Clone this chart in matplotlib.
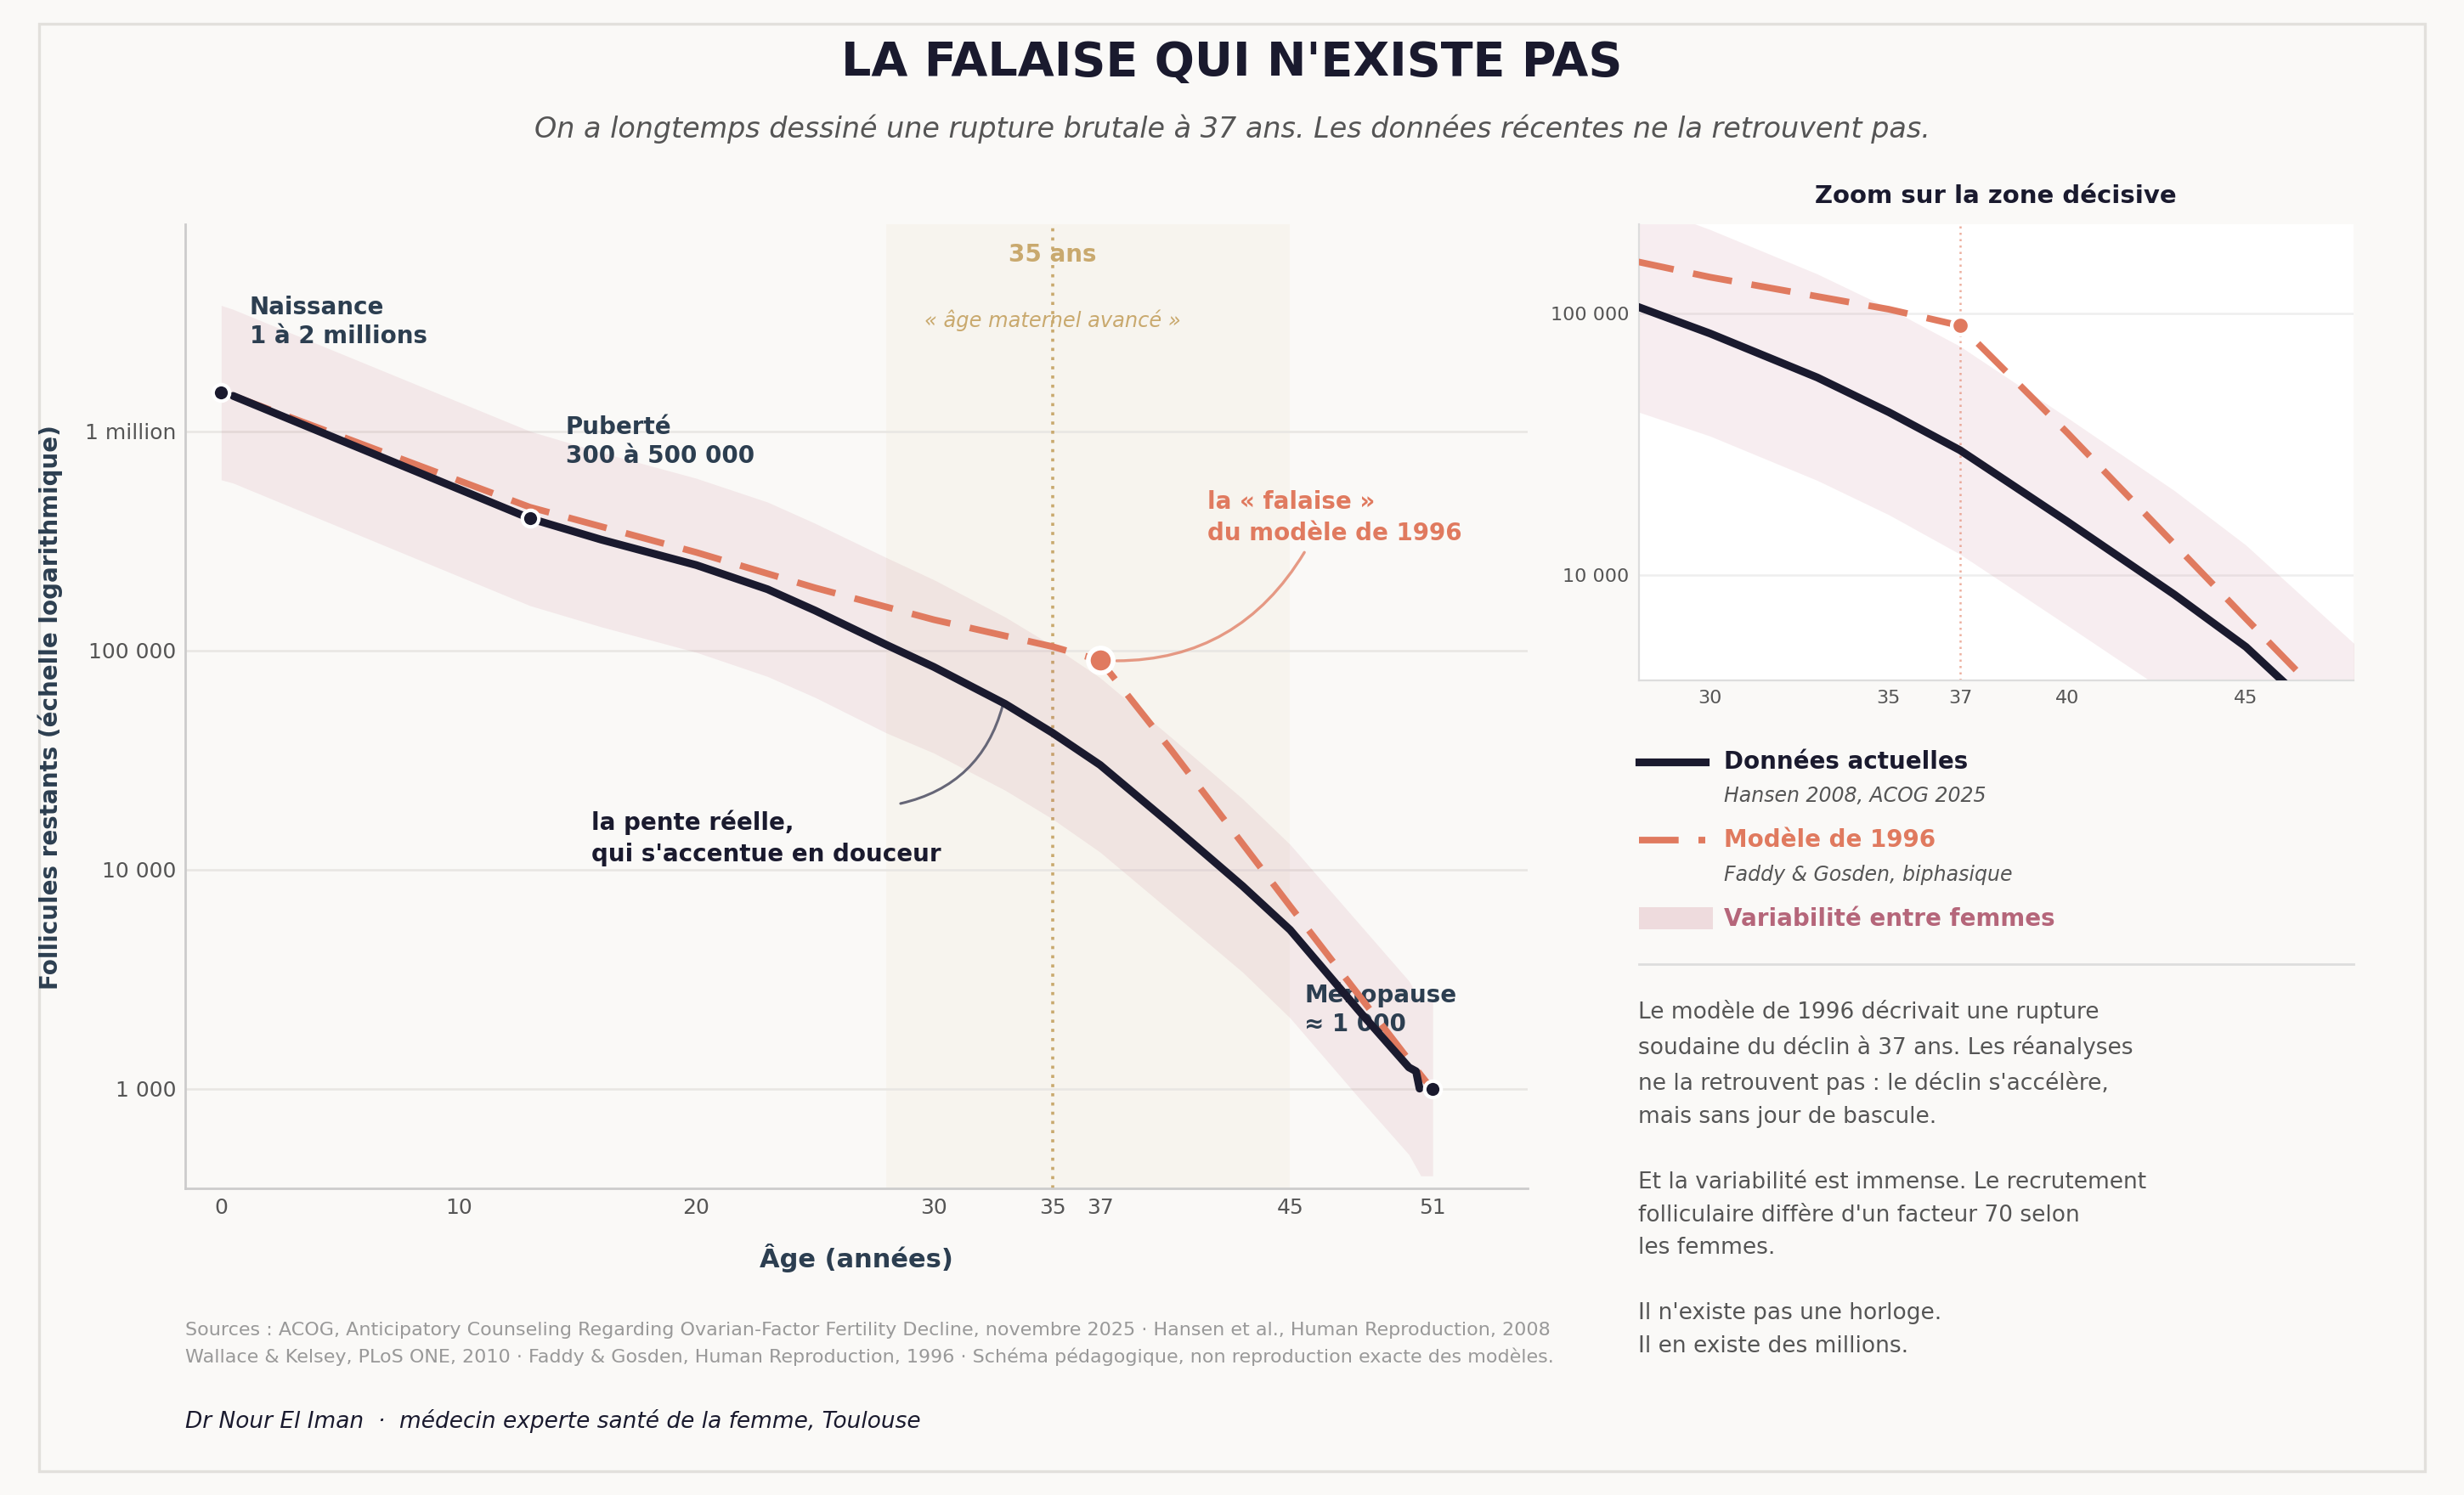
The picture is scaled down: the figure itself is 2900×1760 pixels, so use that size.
import matplotlib
matplotlib.use("Agg")
import matplotlib.pyplot as plt
from matplotlib.lines import Line2D
from matplotlib.patches import Rectangle
from matplotlib.ticker import NullLocator

plt.rcParams['font.family'] = ['DejaVu Sans']

# ---------------- DATA ----------------
ages_actual = [0.5, 13, 16, 20, 23, 25, 28, 30, 33, 35, 37, 40, 43, 45, 48, 50, 50.3, 50.45]
follicles_actual = [1.45e6, 4.0e5, 3.2e5, 2.45e5, 1.9e5, 1.52e5, 1.06e5, 8.4e4, 5.7e4, 4.2e4,
                    3.0e4, 1.6e4, 8.4e3, 5.3e3, 2.2e3, 1.25e3, 1.2e3, 1.0e3]

ages_model = [0.5, 13, 20, 25, 30, 35, 37, 40, 45, 50, 50.8]
follicles_model = [1.45e6, 4.5e5, 2.8e5, 1.93e5, 1.38e5, 1.04e5, 9.0e4, 3.5e4, 6.8e3, 1.35e3, 1.05e3]

ages_band = [0, 0.5, 13, 16, 20, 23, 25, 28, 30, 33, 35, 37, 40, 43, 45, 48, 50, 50.5, 51]
band_low = [6.0e5, 5.8e5, 1.6e5, 1.28e5, 9.8e4, 7.6e4, 6.1e4, 4.2e4, 3.4e4, 2.3e4, 1.7e4,
            1.2e4, 6.4e3, 3.4e3, 2.1e3, 880, 500, 400, 400]
band_high = [3.75e6, 3.6e6, 1.0e6, 8.0e5, 6.1e5, 4.75e5, 3.8e5, 2.65e5, 2.1e5, 1.42e5, 1.05e5,
             7.5e4, 4.0e4, 2.1e4, 1.3e4, 5.5e3, 3.1e3, 2.5e3, 2.5e3]

milestone_ages = [0, 13, 51]
milestone_values = [1.5e6, 4.0e5, 1.0e3]
cliff_age = 37
cliff_value = 9.0e4

x_ticks = [0, 10, 20, 30, 35, 37, 45, 51]
y_ticks = [1e3, 1e4, 1e5, 1e6]
y_tick_labels = ["1 000", "10 000", "100 000", "1 million"]
inset_x_ticks = [30, 35, 37, 40, 45]
inset_y_ticks = [1e4, 1e5]
inset_y_tick_labels = ["10 000", "100 000"]

# ---------------- STYLE ----------------
BG = "#faf9f7"
DARK = "#1a1a2e"
CORAL = "#e07a5f"
GOLD = "#c9a96e"
SLATE = "#2c3e50"
BAND = "#be6478"
GREY = "#555555"

fig = plt.figure(figsize=(14.5, 8.8), dpi=200, facecolor=BG)

# frame
fig.patches.append(Rectangle((0.016, 0.016), 0.968, 0.968, transform=fig.transFigure,
                             fill=False, edgecolor="#e2e0dc", linewidth=1.2, zorder=0))

fig.text(0.5, 0.958, "LA FALAISE QUI N'EXISTE PAS", ha="center", va="center",
         fontsize=20, fontweight="bold", color=DARK)
fig.text(0.5, 0.914, "On a longtemps dessiné une rupture brutale à 37 ans. Les données récentes ne la retrouvent pas.",
         ha="center", va="center", fontsize=12, style="italic", color=GREY)

# ---------------- MAIN AXES ----------------
ax = fig.add_axes([0.0753, 0.205, 0.5447, 0.645])
ax.set_facecolor(BG)
ax.set_yscale("log")
ax.set_xlim(-1.5, 55)
ax.set_ylim(350, 8.8e6)
ax.set_axisbelow(True)

ax.axvspan(28, 45, color=GOLD, alpha=0.06, lw=0, zorder=0)
ax.axvline(35, color=GOLD, lw=1.3, ls=(0, (1, 2)), zorder=1)

ax.fill_between(ages_band, band_low, band_high, color=BAND, alpha=0.11, lw=0, zorder=1)

ax.plot(ages_model, follicles_model, color=CORAL, lw=2.8, dashes=(6, 3), zorder=3)
ax.plot(ages_actual, follicles_actual, color=DARK, lw=3.3, zorder=4, solid_capstyle="round")

ax.plot(milestone_ages, milestone_values, ls="none", marker="o", ms=7, mfc=DARK,
        mec="white", mew=1.5, zorder=6)
ax.plot([cliff_age], [cliff_value], ls="none", marker="o", ms=10.5, mfc=CORAL,
        mec="white", mew=2, zorder=6)

for s in ["top", "right"]:
    ax.spines[s].set_visible(False)
for s in ["left", "bottom"]:
    ax.spines[s].set_color("#cccccc")
    ax.spines[s].set_linewidth(1.0)

ax.set_xticks(x_ticks)
ax.set_xticklabels([str(v) for v in x_ticks])
ax.set_yticks(y_ticks)
ax.set_yticklabels(y_tick_labels)
ax.yaxis.set_minor_locator(NullLocator())
ax.tick_params(axis="both", length=0, labelsize=9, labelcolor=GREY)
ax.tick_params(axis="x", pad=4)
ax.tick_params(axis="y", pad=4)
ax.grid(axis="y", color="#e8e6e3", lw=0.9)
ax.grid(axis="x", visible=False)

fig.text(0.3476, 0.1586, "Âge (années)", ha="center", va="center", fontsize=11,
         fontweight="bold", color=SLATE)
fig.text(0.0204, 0.527, "Follicules restants (échelle logarithmique)", ha="center", va="center",
         rotation=90, fontsize=10, fontweight="bold", color=SLATE)

# band labels
ax.text(35, 6.4e6, "35 ans", ha="center", va="center", fontsize=10, fontweight="bold",
        color=GOLD, zorder=2)
ax.text(35, 3.2e6, "« âge maternel avancé »", ha="center", va="center", fontsize=8.7,
        style="italic", color=GOLD, zorder=2)

# milestone labels
ax.text(1.2, 4.15e6, "Naissance\n1 à 2 millions", ha="left", va="top", fontsize=10,
        fontweight="bold", color=SLATE, linespacing=1.28, zorder=2)
ax.text(14.5, 1.18e6, "Puberté\n300 à 500 000", ha="left", va="top", fontsize=10,
        fontweight="bold", color=SLATE, linespacing=1.28, zorder=2)
ax.text(45.6, 3.05e3, "Ménopause\n≈ 1 000", ha="left", va="top", fontsize=10,
        fontweight="bold", color=SLATE, linespacing=1.28, zorder=2)

# cliff annotation
ax.text(41.5, 5.4e5, "la « falaise »\ndu modèle de 1996", ha="left", va="top", fontsize=10,
        fontweight="bold", color=CORAL, linespacing=1.42, zorder=2)
ax.annotate("", xy=(cliff_age, cliff_value), xytext=(45.6, 2.8e5),
            arrowprops=dict(arrowstyle="-", color=CORAL, alpha=0.75, lw=1.2,
                            connectionstyle="arc3,rad=-0.3", shrinkA=0, shrinkB=7),
            zorder=2)

# real slope annotation
ax.text(15.6, 1.87e4, "la pente réelle,\nqui s'accentue en douceur", ha="left", va="top",
        fontsize=10, fontweight="bold", color=DARK, linespacing=1.42, zorder=2)
ax.annotate("", xy=(32.9, 5.6e4), xytext=(28.6, 2.0e4),
            arrowprops=dict(arrowstyle="-", color="#666677", lw=1.1,
                            connectionstyle="arc3,rad=0.3", shrinkA=0, shrinkB=0),
            zorder=2)

# ---------------- INSET ----------------
axi = fig.add_axes([0.665, 0.545, 0.29, 0.305])
axi.set_facecolor("white")
axi.set_yscale("log")
axi.set_xlim(28, 48)
axi.set_ylim(3950, 2.2e5)
axi.set_axisbelow(True)
axi.fill_between(ages_band, band_low, band_high, color=BAND, alpha=0.11, lw=0, zorder=1)
axi.axvline(37, color=CORAL, lw=0.9, ls=(0, (1, 2)), alpha=0.6, zorder=1)
axi.plot(ages_model, follicles_model, color=CORAL, lw=2.8, dashes=(6, 3), zorder=3)
axi.plot(ages_actual, follicles_actual, color=DARK, lw=3.3, zorder=4)
axi.plot([cliff_age], [cliff_value], ls="none", marker="o", ms=7.5, mfc=CORAL,
         mec="white", mew=1.5, zorder=6)
for s in ["top", "right"]:
    axi.spines[s].set_visible(False)
for s in ["left", "bottom"]:
    axi.spines[s].set_color("#dddddd")
axi.set_xticks(inset_x_ticks)
axi.set_xticklabels([str(v) for v in inset_x_ticks])
axi.set_yticks(inset_y_ticks)
axi.set_yticklabels(inset_y_tick_labels)
axi.yaxis.set_minor_locator(NullLocator())
axi.tick_params(axis="both", length=0, labelsize=8, labelcolor=GREY, pad=4)
axi.grid(axis="y", color="#eeeeee", lw=0.9)
axi.set_title("Zoom sur la zone décisive", fontsize=10.5, fontweight="bold", color=DARK, pad=9)

# ---------------- LEGEND ----------------
lx0, lx1, tx = 0.665, 0.692, 0.6996
fig.lines.append(Line2D([lx0, lx1], [0.4905, 0.4905], transform=fig.transFigure,
                        color=DARK, lw=3.3))
fig.text(tx, 0.4905, "Données actuelles", va="center", fontsize=10, fontweight="bold", color=DARK)
fig.text(tx, 0.4674, "Hansen 2008, ACOG 2025", va="center", fontsize=8.5, style="italic", color=GREY)
fig.lines.append(Line2D([lx0, lx1], [0.438, 0.438], transform=fig.transFigure,
                        color=CORAL, lw=2.8, dashes=(6, 3)))
fig.text(tx, 0.438, "Modèle de 1996", va="center", fontsize=10, fontweight="bold", color=CORAL)
fig.text(tx, 0.415, "Faddy & Gosden, biphasique", va="center", fontsize=8.5, style="italic", color=GREY)
fig.patches.append(Rectangle((lx0, 0.3785), 0.030, 0.0145, transform=fig.transFigure,
                             facecolor=BAND, alpha=0.2, edgecolor="none"))
fig.text(tx, 0.3855, "Variabilité entre femmes", va="center", fontsize=10, fontweight="bold",
         color="#b5667a")
fig.lines.append(Line2D([0.665, 0.955], [0.355, 0.355], transform=fig.transFigure,
                        color="#dddddd", lw=1))

fig.text(0.665, 0.331,
         "Le modèle de 1996 décrivait une rupture\n"
         "soudaine du déclin à 37 ans. Les réanalyses\n"
         "ne la retrouvent pas : le déclin s'accélère,\n"
         "mais sans jour de bascule.\n\n"
         "Et la variabilité est immense. Le recrutement\n"
         "folliculaire diffère d'un facteur 70 selon\n"
         "les femmes.\n\n"
         "Il n'existe pas une horloge.\n"
         "Il en existe des millions.",
         ha="left", va="top", fontsize=9.5, color=GREY, linespacing=1.63)

# ---------------- FOOTER ----------------
fig.text(0.0753, 0.110,
         "Sources : ACOG, Anticipatory Counseling Regarding Ovarian-Factor Fertility Decline, novembre 2025 · Hansen et al., Human Reproduction, 2008",
         ha="left", va="center", fontsize=8, color="#999999")
fig.text(0.0753, 0.0924,
         "Wallace & Kelsey, PLoS ONE, 2010 · Faddy & Gosden, Human Reproduction, 1996 · Schéma pédagogique, non reproduction exacte des modèles.",
         ha="left", va="center", fontsize=8, color="#999999")
fig.text(0.0753, 0.0494, "Dr Nour El Iman  ·  médecin experte santé de la femme, Toulouse",
         ha="left", va="center", fontsize=9.5, style="italic", color=DARK)

fig.savefig("out.png", dpi=200, facecolor=BG)
